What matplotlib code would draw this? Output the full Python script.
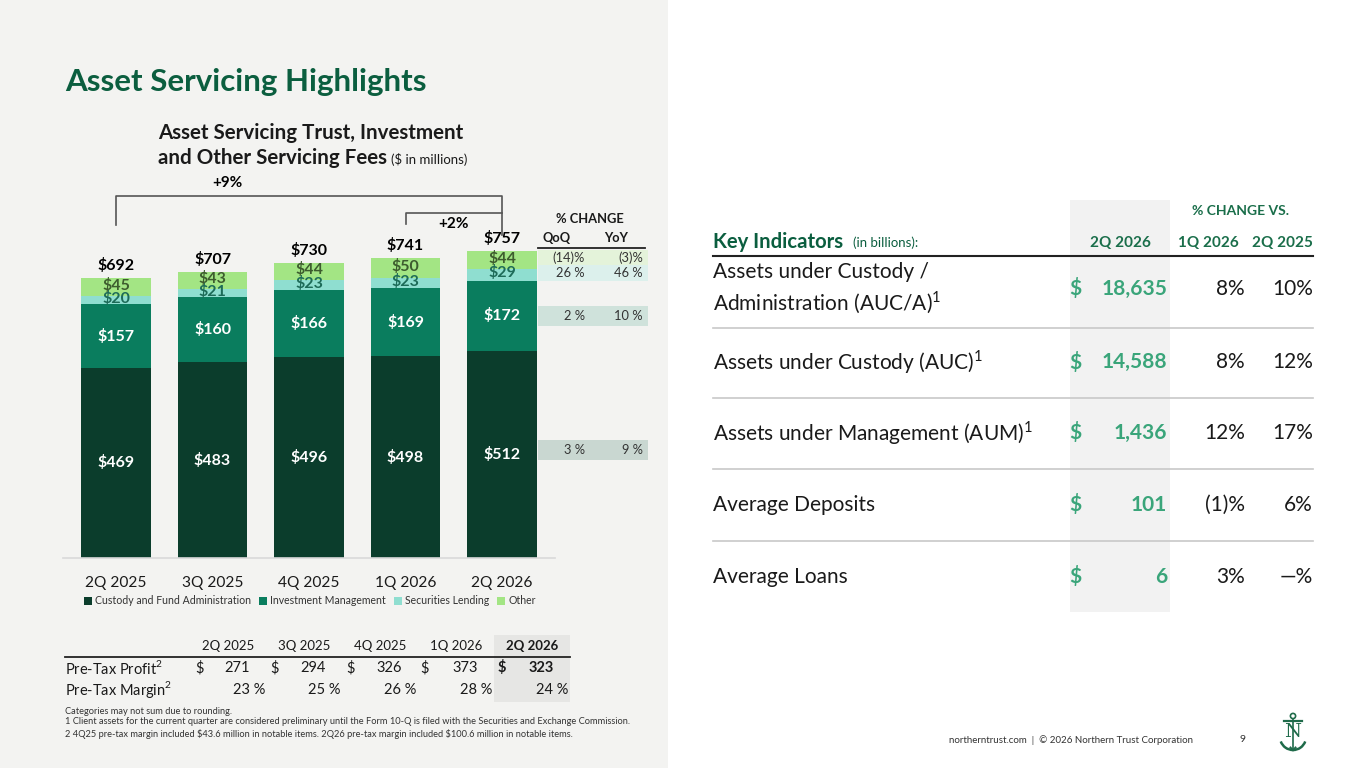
import matplotlib
matplotlib.use("Agg")
import matplotlib.pyplot as plt
from matplotlib.patches import Rectangle, Arc, Circle
from matplotlib.lines import Line2D

plt.rcParams['font.family'] = ['Lato', 'DejaVu Sans']
plt.rcParams['mathtext.fontset'] = 'custom'
plt.rcParams['mathtext.rm'] = 'Lato'

# ---------------- data ----------------
quarters = ['2Q 2025', '3Q 2025', '4Q 2025', '1Q 2026', '2Q 2026']
custody = [469, 483, 496, 498, 512]
invest = [157, 160, 166, 169, 172]
seclend = [20, 21, 23, 23, 29]
other = [45, 43, 44, 50, 44]
totals = [692, 707, 730, 741, 757]
series_names = ['Custody and Fund Administration', 'Investment Management',
                'Securities Lending', 'Other']
# % change (QoQ, YoY) for latest quarter, by segment
chg_qoq = {'Other': '(14)%', 'Securities Lending': '26 %',
           'Investment Management': '2 %', 'Custody and Fund Administration': '3 %'}
chg_yoy = {'Other': '(3)%', 'Securities Lending': '46 %',
           'Investment Management': '10 %', 'Custody and Fund Administration': '9 %'}
growth_yoy = '+9%'
growth_qoq = '+2%'

pretax_profit = [271, 294, 326, 373, 323]
pretax_margin = [23, 25, 26, 28, 24]

ki_labels = ['Assets under Custody /\nAdministration (AUC/A)$^{1}$',
             'Assets under Custody (AUC)$^{1}$',
             'Assets under Management (AUM)$^{1}$',
             'Average Deposits',
             'Average Loans']
ki_values = [18635, 14588, 1436, 101, 6]
ki_vs_1q26 = ['8%', '8%', '12%', '(1)%', '3%']
ki_vs_2q25 = ['10%', '12%', '17%', '6%', '—%']

# ---------------- style ----------------
W, H = 1365, 768
C_CUST = '#0b3d2c'
C_INV = '#0a7d5e'
C_SL = '#8fded0'
C_OTH = '#a3e584'
C_LBL_OTH = '#3d5c2e'
C_LBL_SL = '#1d6b58'
GREEN = '#0b5e3f'
LGREEN = '#3aa57a'
HGREEN = '#1a6e4a'
TXT = '#1a1a1a'
PANEL = '#f3f3f1'

fig = plt.figure(figsize=(W / 100, H / 100), dpi=100)
fig.patch.set_facecolor('white')


def fx(x):
    return x / W


def fy(y):
    return 1 - y / H


def T(x, y, s, **kw):
    kw.setdefault('color', TXT)
    kw.setdefault('va', 'center')
    return fig.text(fx(x), fy(y), s, **kw)


def R(x0, y0, x1, y1, color, z=0):
    fig.patches.append(Rectangle((fx(x0), fy(y1)), fx(x1) - fx(x0), fy(y0) - fy(y1),
                                 transform=fig.transFigure, facecolor=color,
                                 edgecolor='none', zorder=z))


def L(x0, y0, x1, y1, color, lw=1.0, z=3):
    fig.lines.append(Line2D([fx(x0), fx(x1)], [fy(y0), fy(y1)], transform=fig.transFigure,
                            color=color, lw=lw, zorder=z))


# left panel background
R(0, 0, 668, 768, PANEL, z=-5)

# titles
T(65, 82, 'Asset Servicing Highlights', fontsize=22.5, fontweight='bold', color=GREEN)
T(311, 133, 'Asset Servicing Trust, Investment', fontsize=14.8, fontweight='bold', ha='center')
T(387, 158, 'and Other Servicing Fees', fontsize=14.8, fontweight='bold', ha='right')
T(391, 159, '($ in millions)', fontsize=9.5, ha='left')

# ---------------- bar chart ----------------
ax = fig.add_axes([62.9 / W, (768 - 558) / H, 492.2 / W, 378 / H])
ax.set_facecolor('none')
x = list(range(len(quarters)))
bw = 0.72
b1 = ax.bar(x, custody, bw, color=C_CUST, label=series_names[0], zorder=2)
bot2 = custody
b2 = ax.bar(x, invest, bw, bottom=bot2, color=C_INV, label=series_names[1], zorder=2)
bot3 = [a + b for a, b in zip(custody, invest)]
b3 = ax.bar(x, seclend, bw, bottom=bot3, color=C_SL, label=series_names[2], zorder=2)
bot4 = [a + b for a, b in zip(bot3, seclend)]
b4 = ax.bar(x, other, bw, bottom=bot4, color=C_OTH, label=series_names[3], zorder=2)
tops = [a + b for a, b in zip(bot4, other)]

ax.set_xlim(-0.55, 4.55)
ax.set_ylim(0, 933)
for s in ['top', 'right', 'left']:
    ax.spines[s].set_visible(False)
ax.spines['bottom'].set_color('#d9d9d9')
ax.spines['bottom'].set_linewidth(1.2)
ax.set_yticks([])
ax.set_xticks(x)
ax.set_xticklabels(quarters, fontsize=11.2, color=TXT)
ax.tick_params(axis='x', length=0, pad=13)

for i in x:
    ax.text(i, custody[i] / 2, f'${custody[i]}', ha='center', va='center',
            color='white', fontsize=11.5, fontweight='bold')
    ax.text(i, bot2[i] + invest[i] / 2, f'${invest[i]}', ha='center', va='center',
            color='white', fontsize=11.5, fontweight='bold')
    ax.text(i, bot3[i] + seclend[i] / 2 + 5, f'${seclend[i]}', ha='center', va='center',
            color=C_LBL_SL, fontsize=11.5, fontweight='bold', zorder=3)
    ax.text(i, bot4[i] + other[i] / 2 + 4, f'${other[i]}', ha='center', va='center',
            color=C_LBL_OTH, fontsize=11.5, fontweight='bold', zorder=4)
    ax.text(i, tops[i] + 12, f'${totals[i]}', ha='center', va='bottom',
            color='black', fontsize=11.5, fontweight='bold')

# growth brackets
bc = '#555555'
ax.plot([0, 0, 4, 4], [tops[0] + 130, 894, 894, tops[4] + 40], color=bc, lw=1.2, clip_on=False)
ax.text(1.15, 926, growth_yoy, ha='center', va='center', fontsize=11, fontweight='bold', color='black')
ax.plot([3, 3, 4], [tops[3] + 84, 852, 852], color=bc, lw=1.2, clip_on=False)
ax.text(3.5, 824, growth_qoq, ha='center', va='center', fontsize=11, fontweight='bold', color='black')

# % change table next to last bar
seg_centers = {
    'Other': bot4[4] + other[4] / 2 + 5,
    'Securities Lending': bot3[4] + seclend[4] / 2 + 5,
    'Investment Management': bot2[4] + invest[4] / 2,
    'Custody and Fund Administration': custody[4] / 2 + 10,
}
row_bg = {'Other': '#e4f3da', 'Securities Lending': '#dcf0ec',
          'Investment Management': '#cfe2db', 'Custody and Fund Administration': '#c9d7d1'}
for name in ['Other', 'Securities Lending', 'Investment Management', 'Custody and Fund Administration']:
    yc = seg_centers[name]
    h = 40 if name in ('Other', 'Securities Lending') else 50
    ax.add_patch(Rectangle((4.37, yc - h / 2), 1.14, h, facecolor=row_bg[name],
                           edgecolor='none', clip_on=False, zorder=1))
    ax.text(4.86, yc, chg_qoq[name], ha='right', va='center', fontsize=9.3, color='#333333')
    ax.text(5.46, yc, chg_yoy[name], ha='right', va='center', fontsize=9.3, color='#333333')
T(590, 219, '% CHANGE', fontsize=9.3, fontweight='bold', ha='center')
T(557, 238, 'QoQ', fontsize=9.3, fontweight='bold', ha='center')
T(616, 238, 'YoY', fontsize=9.3, fontweight='bold', ha='center')
L(538, 247.5, 645, 247.5, '#222222', lw=1.3)

# legend
fig.legend(handles=[b1, b2, b3, b4], labels=series_names, loc='center',
           bbox_to_anchor=(fx(310), fy(601)), ncol=4, frameon=False, fontsize=7.6,
           handlelength=0.7, handleheight=0.7, handletextpad=0.3, columnspacing=0.8,
           labelcolor='#333333')

# ---------------- pre-tax table ----------------
R(494, 635, 570, 702, '#e6e6e4', z=-1)
col_hdr_x = [228, 304, 380, 456, 532]
for i, q in enumerate(quarters):
    T(col_hdr_x[i], 646, q, fontsize=9.5, ha='center',
      fontweight='bold' if i == 4 else 'normal')
L(65, 657, 570, 657, '#222222', lw=1.3)
T(65, 668, 'Pre-Tax Profit$^{2}$', fontsize=10.5)
T(65, 690, 'Pre-Tax Margin$^{2}$', fontsize=10.5)
dollar_x = [200, 275, 351, 425, 502]
val_x = [250, 326, 402, 478, 554]
marg_x = [265, 341, 416, 492, 568]
for i in range(5):
    fw = 'bold' if i == 4 else 'normal'
    T(dollar_x[i], 668, '$', fontsize=10.5, ha='center', fontweight=fw)
    T(val_x[i], 668, f'{pretax_profit[i]}', fontsize=10.5, ha='right', fontweight=fw)
    T(marg_x[i], 690, f'{pretax_margin[i]} %', fontsize=10.5, ha='right')

T(65, 711, 'Categories may not sum due to rounding.', fontsize=6.65, color='#333333')
T(65, 722, '1 Client assets for the current quarter are considered preliminary until the Form 10-Q is filed with the Securities and Exchange Commission.',
  fontsize=6.65, color='#333333')
T(65, 734, '2 4Q25 pre-tax margin included \\$43.6 million in notable items. 2Q26 pre-tax margin included \\$100.6 million in notable items.',
  fontsize=6.65, color='#333333')

# ---------------- key indicators ----------------
R(1070, 200, 1170, 612, '#f2f2f2', z=-1)
T(713, 242, 'Key Indicators', fontsize=14.6, fontweight='bold', color=GREEN)
T(853, 243, '(in billions):', fontsize=9.5, color=GREEN)
T(1240, 211, '% CHANGE VS.', fontsize=10, fontweight='bold', color=HGREEN, ha='center')
T(1120, 243, '2Q 2026', fontsize=11, fontweight='bold', color=HGREEN, ha='center')
T(1208, 243, '1Q 2026', fontsize=11, fontweight='bold', color=HGREEN, ha='center')
T(1282, 243, '2Q 2025', fontsize=11, fontweight='bold', color=HGREEN, ha='center')
L(713, 255.5, 1313, 255.5, '#222222', lw=1.5)

row_y = [289, 362, 433, 505, 577]
for i, lab in enumerate(ki_labels):
    yc = row_y[i]
    T(713, yc, lab, fontsize=15, linespacing=1.4)
    T(1075, yc, '$', fontsize=15, fontweight='bold', color=LGREEN, ha='center')
    T(1167, yc, f'{ki_values[i]:,}', fontsize=15, fontweight='bold', color=LGREEN, ha='right')
    T(1245, yc, ki_vs_1q26[i], fontsize=15, ha='right')
    T(1313, yc, ki_vs_2q25[i], fontsize=15, ha='right')
    if i < len(ki_labels) - 1:
        yl = (row_y[i] + row_y[i + 1]) / 2 + (2 if i == 0 else 0)
        L(713, yl, 1313, yl, '#c8c8c8', lw=1.2)

# footer
T(1193, 740, 'northerntrust.com  |  © 2026 Northern Trust Corporation', fontsize=7, ha='right', color='#333333')
T(1243, 740, '9', fontsize=7.5, ha='center', color='#333333')

# logo (simple anchor)
lax = fig.add_axes([1275 / W, 1 - 755 / H, 36 / W, 44 / H])
lax.set_xlim(-18, 18)
lax.set_ylim(-22, 22)
lax.axis('off')
lg = '#1f6b4a'
lax.add_patch(Circle((0, 17), 2.6, fill=False, ec=lg, lw=1.2))
lax.plot([-9, 9], [12, 12], color=lg, lw=1.6)
lax.plot([0, 0], [14.5, -17], color=lg, lw=1.2)
lax.add_patch(Arc((0, -4), 26, 26, theta1=200, theta2=340, ec=lg, lw=1.8))
lax.plot([-2.5, 0, 2.5], [-14.5, -17.5, -14.5], color=lg, lw=1.4)
lax.text(0, 1, 'N', ha='center', va='center', fontsize=14, color=lg, family='DejaVu Serif')

fig.savefig('out.png', dpi=100, facecolor=fig.get_facecolor())
